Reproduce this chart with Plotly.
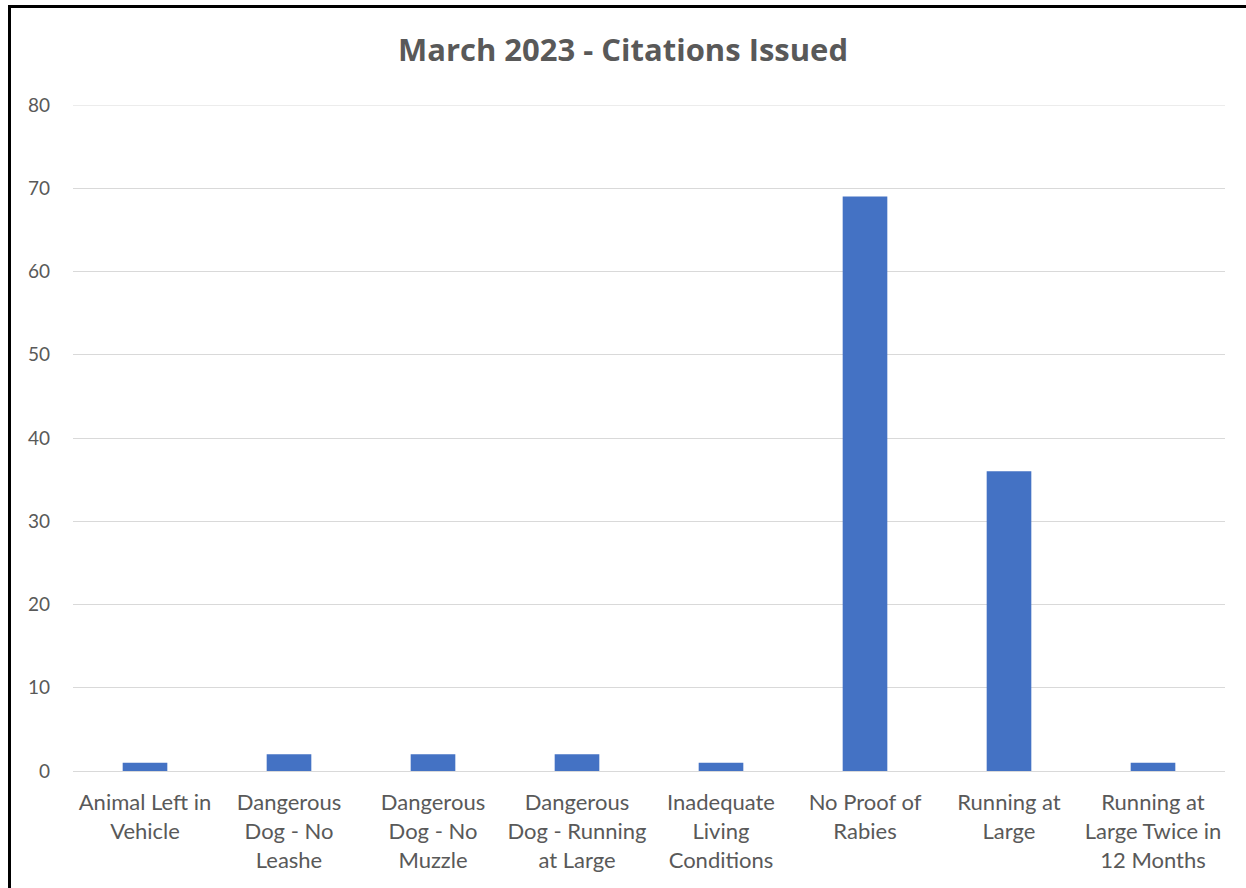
import plotly.graph_objs as go

categories = [
    "Animal Left in<br>Vehicle",
    "Dangerous<br>Dog - No<br>Leashe",
    "Dangerous<br>Dog - No<br>Muzzle",
    "Dangerous<br>Dog - Running<br>at Large",
    "Inadequate<br>Living<br>Conditions",
    "No Proof of<br>Rabies",
    "Running at<br>Large",
    "Running at<br>Large Twice in<br>12 Months",
]
citations = [1, 2, 2, 2, 1, 69, 36, 1]
y_ticks = [0, 10, 20, 30, 40, 50, 60, 70, 80]

text_color = "#595959"
font_family = "Lato, Carlito, Calibri, sans-serif"

W, H = 1246, 888
L, R, T, B = 73, 21, 105, 117
PW, PH = W - L - R, H - T - B

fig = go.Figure()
fig.add_trace(go.Bar(
    x=categories,
    y=citations,
    marker=dict(color="#4472C4", line=dict(width=0)),
    showlegend=False,
))

# black frame of the original chart box (left and top edges only are visible)
fx = (9.5 - L) / PW
fy = (H - 6.5 - B) / PH

fig.update_layout(
    width=W,
    height=H,
    margin=dict(l=L, r=R, t=T, b=B),
    paper_bgcolor="white",
    plot_bgcolor="white",
    bargap=0.69,
    font=dict(family=font_family, color=text_color, size=19),
    title=dict(
        text="<b>March 2023 - Citations Issued</b>",
        x=0.5, xanchor="center",
        y=1 - 50 / H, yanchor="middle",
        font=dict(size=31, color=text_color, family="Open Sans, sans-serif"),
    ),
    xaxis=dict(
        showgrid=False,
        showline=True,
        linecolor="#d9d9d9",
        linewidth=1,
        tickfont=dict(size=22, color=text_color),
        ticks="",
        ticklabelstandoff=12,
    ),
    yaxis=dict(
        range=[0, max(y_ticks)],
        tickvals=y_ticks,
        showgrid=True,
        gridcolor="#d9d9d9",
        gridwidth=1,
        zeroline=False,
        showline=False,
        tickfont=dict(size=19, color=text_color),
        ticklabelstandoff=22,
    ),
    shapes=[
        # top gridline sits on the plot edge, plotly skips it
        dict(type="line", xref="paper", yref="y",
             x0=0, x1=1, y0=max(y_ticks), y1=max(y_ticks),
             line=dict(color="#d9d9d9", width=1), layer="below"),
        dict(type="line", xref="paper", yref="paper",
             x0=fx, x1=fx, y0=-2, y1=fy,
             line=dict(color="black", width=3)),
        dict(type="line", xref="paper", yref="paper",
             x0=fx - 1.5 / PW, x1=2, y0=fy, y1=fy,
             line=dict(color="black", width=3)),
    ],
)

fig.write_html("out.html", config={"displayModeBar": False},
               post_script="document.body.style.margin='0';")
